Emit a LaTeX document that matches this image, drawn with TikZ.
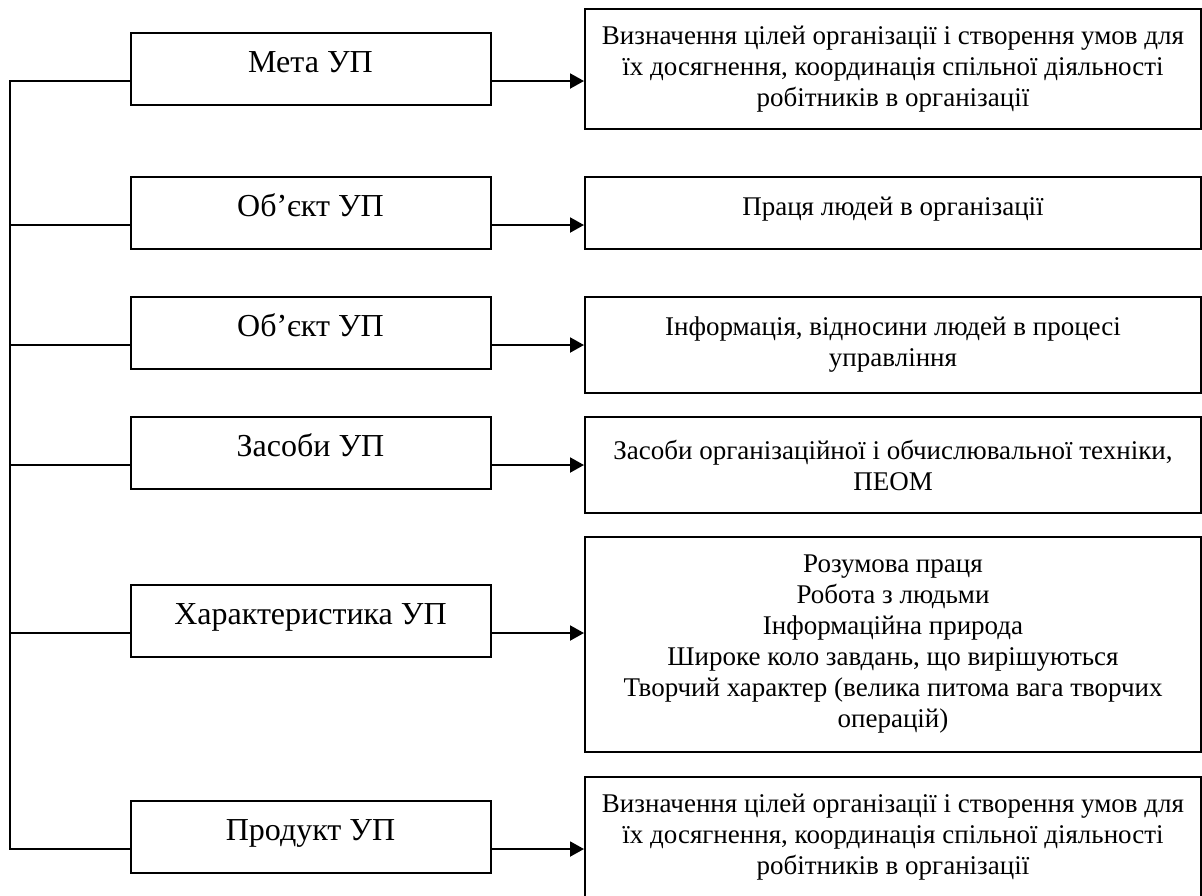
\documentclass[tikz,border=0pt]{standalone}
\usepackage{fontspec}
\setmainfont{Liberation Serif}
\usetikzlibrary{arrows.meta}

\begin{document}
\begin{tikzpicture}[x=0.5pt,y=-0.5pt,
  leftbox/.style={draw,line width=1pt,minimum width=180pt,minimum height=36pt,
    text height=0.7em,text depth=0.33em,font=\fontsize{16}{20}\selectfont},
  rightbox/.style={draw,line width=1pt,minimum width=308pt,align=center,
    font=\fontsize{13.5}{15.5}\selectfont},
  link/.style={line width=0.8pt},
  arrowlink/.style={line width=1pt,-{Triangle[length=7pt,width=7.5pt]}}]
  \useasboundingbox (0,0) rectangle (1202,895);
  % left column
  \node[leftbox] (l1) at (310.5,69) {Мета УП};
  \node[leftbox] (l2) at (310.5,213) {Об’єкт УП};
  \node[leftbox] (l3) at (310.5,333) {Об’єкт УП};
  \node[leftbox] (l4) at (310.5,453) {Засоби УП};
  \node[leftbox] (l5) at (310.5,621) {Характеристика УП};
  \node[leftbox] (l6) at (310.5,837) {Продукт УП};
  % right column
  \node[rightbox,minimum height=60pt] (r1) at (893,69)
    {Визначення цілей організації і створення умов для\\
     їх досягнення, координація спільної діяльності\\
     робітників в організації};
  \node[rightbox,minimum height=36pt,text height=0.7em,text depth=0.5em] (r2) at (893,213)
    {Праця людей в організації};
  \node[rightbox,minimum height=48pt] (r3) at (893,345)
    {Інформація, відносини людей в процесі\\ управління};
  \node[rightbox,minimum height=48pt] (r4) at (893,465)
    {Засоби організаційної і обчислювальної техніки,\\ ПЕОМ};
  \node[rightbox,minimum height=107.5pt] (r5) at (893,644.5)
    {Розумова праця\\
     Робота з людьми\\
     Інформаційна природа\\
     Широке коло завдань, що вирішуються\\
     Творчий характер (велика питома вага творчих\\
     операцій)};
  \node[rightbox,minimum height=60pt] (r6) at (893,837)
    {Визначення цілей організації і створення умов для\\
     їх досягнення, координація спільної діяльності\\
     робітників в організації};
  % connectors
  \foreach \i/\y in {1/81,2/225,3/345,4/465,5/633,6/849}
    \coordinate (j\i) at (10,\y);
  \draw[link] (l1.west |- j1) -- (j1) -- (j6) -- (l6.west |- j6);
  \foreach \i in {2,...,5}
    \draw[link] (j\i) -- (l\i.west |- j\i);
  \foreach \i in {1,...,6}
    \draw[arrowlink] (l\i.east |- j\i) -- (r\i.west |- j\i);
\end{tikzpicture}
\end{document}
